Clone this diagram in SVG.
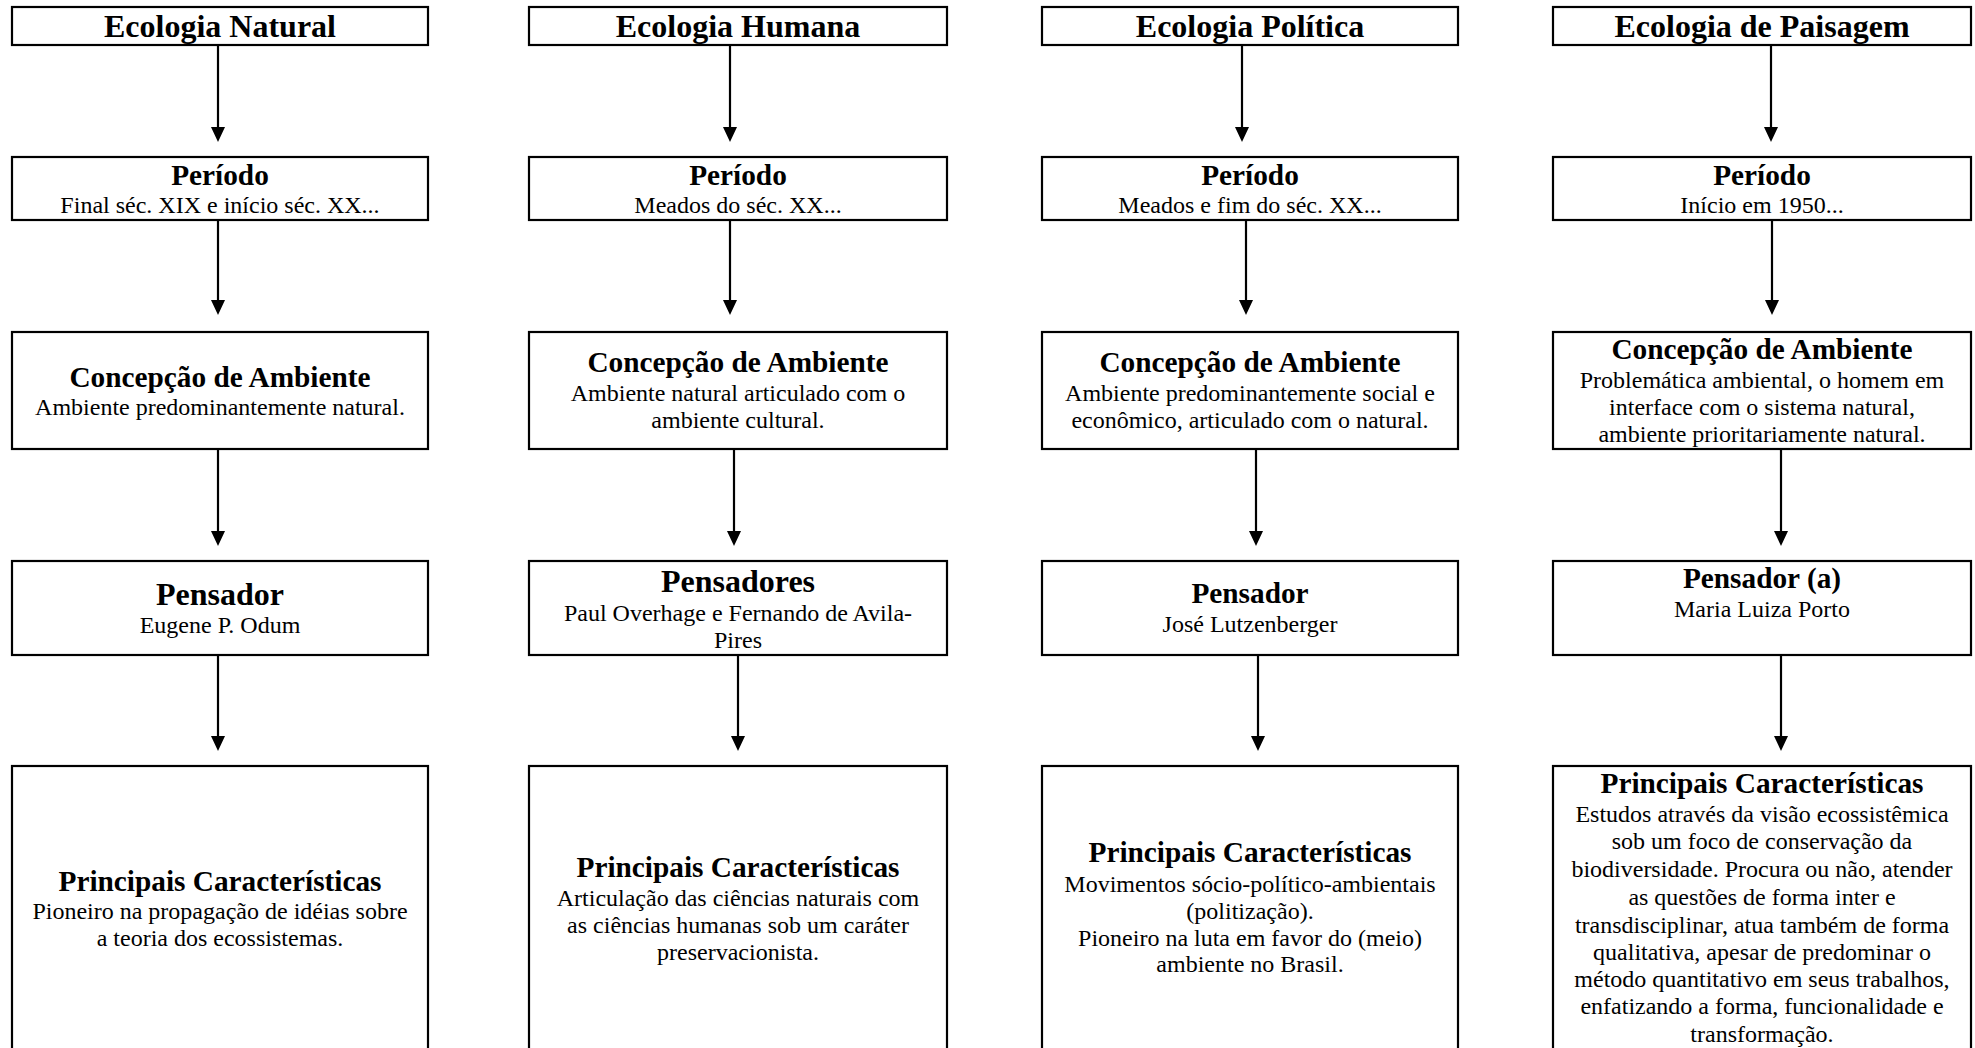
<svg xmlns="http://www.w3.org/2000/svg" width="1975" height="1048" viewBox="0 0 1975 1048">
<style>
.box{fill:#fff;stroke:#000;stroke-width:2.2}
text{font-family:"Liberation Serif","Times New Roman",serif;text-anchor:middle;fill:#000}
.t{font-size:32px;font-weight:bold}
.h{font-size:29.3px;font-weight:bold}
.hp{font-size:32px;font-weight:bold}
.b{font-size:24px}
.c{fill:none;stroke:#000;stroke-width:2.2}
</style>
<defs>
<marker id="ah" markerUnits="userSpaceOnUse" markerWidth="16" markerHeight="15" refX="5" refY="7" orient="auto">
<path d="M0,0 L15,7 L0,14 z" fill="#000"/>
</marker>
</defs>
<rect width="1975" height="1048" fill="#fff"/>
<g id="connectors">
<path class="c" d="M218,45 V132" marker-end="url(#ah)"/>
<path class="c" d="M218,220 V305" marker-end="url(#ah)"/>
<path class="c" d="M218,449 V536" marker-end="url(#ah)"/>
<path class="c" d="M218,655 V741" marker-end="url(#ah)"/>
<path class="c" d="M730,45 V132" marker-end="url(#ah)"/>
<path class="c" d="M730,220 V305" marker-end="url(#ah)"/>
<path class="c" d="M734,449 V536" marker-end="url(#ah)"/>
<path class="c" d="M738,655 V741" marker-end="url(#ah)"/>
<path class="c" d="M1242,45 V132" marker-end="url(#ah)"/>
<path class="c" d="M1246,220 V305" marker-end="url(#ah)"/>
<path class="c" d="M1256,449 V536" marker-end="url(#ah)"/>
<path class="c" d="M1258,655 V741" marker-end="url(#ah)"/>
<path class="c" d="M1771,45 V132" marker-end="url(#ah)"/>
<path class="c" d="M1772,220 V305" marker-end="url(#ah)"/>
<path class="c" d="M1781,449 V536" marker-end="url(#ah)"/>
<path class="c" d="M1781,655 V741" marker-end="url(#ah)"/>
</g>
<!-- Column 1 -->
<g id="n-natural-titulo"><rect class="box" x="12" y="7" width="416" height="38"/><text class="t" x="220" y="37">Ecologia Natural</text></g>
<g id="n-natural-periodo"><rect class="box" x="12" y="157" width="416" height="63"/><text class="h" x="220" y="185">Período</text><text class="b" x="220" y="212.5">Final séc. XIX e início séc. XX...</text></g>
<g id="n-natural-concepcao"><rect class="box" x="12" y="332" width="416" height="117"/><text class="h" x="220" y="387">Concepção de Ambiente</text><text class="b" x="220" y="415">Ambiente predominantemente natural.</text></g>
<g id="n-natural-pensador"><rect class="box" x="12" y="561" width="416" height="94"/><text class="hp" x="220" y="605">Pensador</text><text class="b" x="220" y="633">Eugene P. Odum</text></g>
<g id="n-natural-caracteristicas"><rect class="box" x="12" y="766" width="416" height="300"/><text class="h" x="220" y="891">Principais Características</text><text class="b" x="220" y="919">Pioneiro na propagação de idéias sobre</text><text class="b" x="220" y="946">a teoria dos ecossistemas.</text></g>
<!-- Column 2 -->
<g id="n-humana-titulo"><rect class="box" x="529" y="7" width="418" height="38"/><text class="t" x="738" y="37">Ecologia Humana</text></g>
<g id="n-humana-periodo"><rect class="box" x="529" y="157" width="418" height="63"/><text class="h" x="738" y="185">Período</text><text class="b" x="738" y="212.5">Meados do séc. XX...</text></g>
<g id="n-humana-concepcao"><rect class="box" x="529" y="332" width="418" height="117"/><text class="h" x="738" y="372">Concepção de Ambiente</text><text class="b" x="738" y="401">Ambiente natural articulado com o</text><text class="b" x="738" y="428">ambiente cultural.</text></g>
<g id="n-humana-pensador"><rect class="box" x="529" y="561" width="418" height="94"/><text class="hp" x="738" y="592">Pensadores</text><text class="b" x="738" y="621">Paul Overhage e Fernando de Avila-</text><text class="b" x="738" y="648">Pires</text></g>
<g id="n-humana-caracteristicas"><rect class="box" x="529" y="766" width="418" height="300"/><text class="h" x="738" y="877">Principais Características</text><text class="b" x="738" y="906">Articulação das ciências naturais com</text><text class="b" x="738" y="932.5">as ciências humanas sob um caráter</text><text class="b" x="738" y="960">preservacionista.</text></g>
<!-- Column 3 -->
<g id="n-politica-titulo"><rect class="box" x="1042" y="7" width="416" height="38"/><text class="t" x="1250" y="37">Ecologia Política</text></g>
<g id="n-politica-periodo"><rect class="box" x="1042" y="157" width="416" height="63"/><text class="h" x="1250" y="185">Período</text><text class="b" x="1250" y="212.5">Meados e fim do séc. XX...</text></g>
<g id="n-politica-concepcao"><rect class="box" x="1042" y="332" width="416" height="117"/><text class="h" x="1250" y="372">Concepção de Ambiente</text><text class="b" x="1250" y="401">Ambiente predominantemente social e</text><text class="b" x="1250" y="428">econômico, articulado com o natural.</text></g>
<g id="n-politica-pensador"><rect class="box" x="1042" y="561" width="416" height="94"/><text class="h" x="1250" y="603">Pensador</text><text class="b" x="1250" y="632">José Lutzenberger</text></g>
<g id="n-politica-caracteristicas"><rect class="box" x="1042" y="766" width="416" height="300"/><text class="h" x="1250" y="862">Principais Características</text><text class="b" x="1250" y="892">Movimentos sócio-político-ambientais</text><text class="b" x="1250" y="919">(politização).</text><text class="b" x="1250" y="946">Pioneiro na luta em favor do (meio)</text><text class="b" x="1250" y="972">ambiente no Brasil.</text></g>
<!-- Column 4 -->
<g id="n-paisagem-titulo"><rect class="box" x="1553" y="7" width="418" height="38"/><text class="t" x="1762" y="37">Ecologia de Paisagem</text></g>
<g id="n-paisagem-periodo"><rect class="box" x="1553" y="157" width="418" height="63"/><text class="h" x="1762" y="185">Período</text><text class="b" x="1762" y="212.5">Início em 1950...</text></g>
<g id="n-paisagem-concepcao"><rect class="box" x="1553" y="332" width="418" height="117"/><text class="h" x="1762" y="359">Concepção de Ambiente</text><text class="b" x="1762" y="388">Problemática ambiental, o homem em</text><text class="b" x="1762" y="415">interface com o sistema natural,</text><text class="b" x="1762" y="442">ambiente prioritariamente natural.</text></g>
<g id="n-paisagem-pensador"><rect class="box" x="1553" y="561" width="418" height="94"/><text class="h" x="1762" y="588">Pensador (a)</text><text class="b" x="1762" y="617">Maria Luiza Porto</text></g>
<g id="n-paisagem-caracteristicas"><rect class="box" x="1553" y="766" width="418" height="300"/><text class="h" x="1762" y="793">Principais Características</text><text class="b" x="1762" y="822">Estudos através da visão ecossistêmica</text><text class="b" x="1762" y="849">sob um foco de conservação da</text><text class="b" x="1762" y="877">biodiversidade. Procura ou não, atender</text><text class="b" x="1762" y="905">as questões de forma inter e</text><text class="b" x="1762" y="933">transdisciplinar, atua também de forma</text><text class="b" x="1762" y="960">qualitativa, apesar de predominar o</text><text class="b" x="1762" y="987">método quantitativo em seus trabalhos,</text><text class="b" x="1762" y="1014">enfatizando a forma, funcionalidade e</text><text class="b" x="1762" y="1042">transformação.</text></g>
</svg>
